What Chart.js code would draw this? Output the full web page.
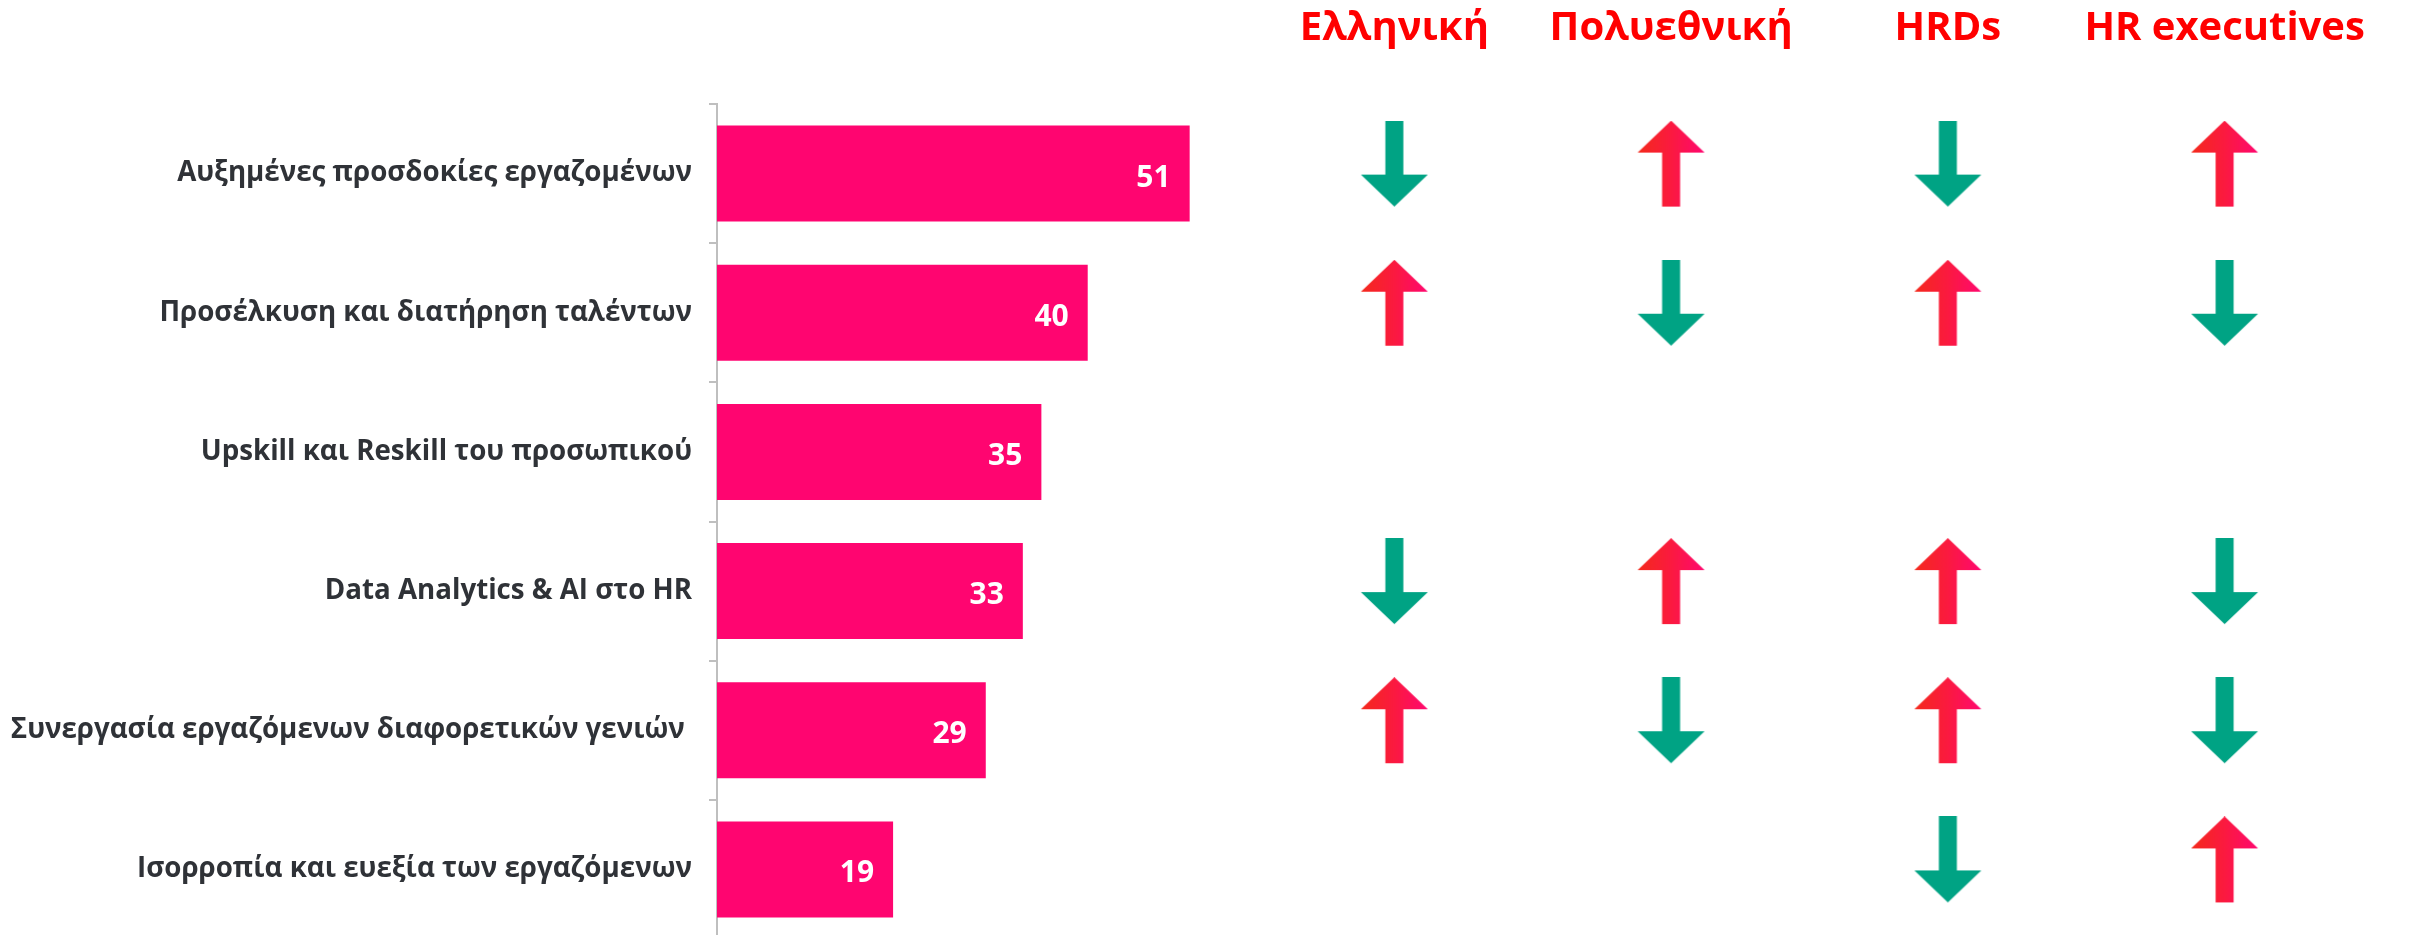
<!DOCTYPE html>
<html>
<head>
<meta charset="utf-8">
<script src="https://cdn.jsdelivr.net/npm/chart.js@4/dist/chart.umd.min.js"></script>
<style>
  html, body { margin: 0; padding: 0; background: #ffffff; width: 2409px; height: 935px; overflow: hidden; }
  #leftBox { position: absolute; left: 0; top: 0; width: 1236px; height: 989px; }
  #rightBox { position: absolute; left: 1245px; top: 0; width: 1129px; height: 989px; }
</style>
</head>
<body>
<div id="leftBox"><canvas id="bars" width="1236" height="989"></canvas></div>
<div id="rightBox"><canvas id="arrows" width="1129" height="989"></canvas></div>
<script>
// ---- data ----
const categories = [
  'Αυξημένες προσδοκίες εργαζομένων',
  'Προσέλκυση και διατήρηση ταλέντων',
  'Upskill και Reskill του προσωπικού',
  'Data Analytics & AI στο HR',
  'Συνεργασία εργαζόμενων διαφορετικών γενιών ',
  'Ισορροπία και ευεξία των εργαζόμενων'
];
const values = [51, 40, 35, 33, 29, 19];
const columns = ['Ελληνική', 'Πολυεθνική', 'HRDs', 'HR executives'];
const trendElliniki    = ['down', 'up',   null, 'down', 'up',   null];
const trendPolyethniki = ['up',   'down', null, 'up',   'down', null];
const trendHRDs        = ['down', 'up',   null, 'up',   'up',   'down'];
const trendHRexec      = ['up',   'down', null, 'down', 'down', 'up'];
const trends = [trendElliniki, trendPolyethniki, trendHRDs, trendHRexec];

// ---- arrow glyphs (styling only) ----
function makeArrow(dir) {
  const W = 69, H = 86, PADB = 20;
  const c = document.createElement('canvas');
  c.width = W; c.height = H + PADB;
  const g = c.getContext('2d');
  const cx = W / 2, hw = 33.5, sw = 9, hh = 32;
  g.beginPath();
  if (dir === 'up') {
    g.moveTo(cx, 0);
    g.lineTo(cx + hw, hh);
    g.lineTo(cx + sw, hh);
    g.lineTo(cx + sw, H);
    g.lineTo(cx - sw, H);
    g.lineTo(cx - sw, hh);
    g.lineTo(cx - hw, hh);
    const grad = g.createLinearGradient(cx - hw, 0, cx + hw, 0);
    grad.addColorStop(0, '#F42A1C');
    grad.addColorStop(0.5, '#FB1A40');
    grad.addColorStop(1, '#FF0870');
    g.fillStyle = grad;
  } else {
    g.moveTo(cx - sw, 0);
    g.lineTo(cx + sw, 0);
    g.lineTo(cx + sw, H - hh);
    g.lineTo(cx + hw, H - hh);
    g.lineTo(cx, H);
    g.lineTo(cx - hw, H - hh);
    g.lineTo(cx - sw, H - hh);
    g.fillStyle = '#00A384';
  }
  g.closePath();
  g.fill();
  return c;
}
const upImg = makeArrow('up');
const downImg = makeArrow('down');

const valueLabels = {
  id: 'valueLabels',
  afterDatasetsDraw(chart) {
    const ctx = chart.ctx;
    const meta = chart.getDatasetMeta(0);
    ctx.save();
    ctx.font = 'bold 30px "Open Sans"';
    ctx.fillStyle = '#ffffff';
    ctx.textAlign = 'right';
    ctx.textBaseline = 'alphabetic';
    meta.data.forEach((bar, i) => {
      ctx.fillText(String(chart.data.datasets[0].data[i]), bar.x - 19, bar.y + 13);
    });
    ctx.restore();
  }
};

function headerColor(ctx) {
  const chart = ctx.chart;
  const sc = chart.scales && chart.scales.x;
  if (!sc) return '#FF0000';
  const cx = sc.getPixelForTick(ctx.index);
  if (!isFinite(cx)) return '#FF0000';
  const c = chart.ctx;
  c.save();
  c.font = 'bold 40px "Open Sans"';
  const w = c.measureText(columns[ctx.index] || '').width;
  c.restore();
  const g = c.createLinearGradient(cx - w / 2, 0, cx + w / 2, 0);
  g.addColorStop(0, '#FF0000');
  g.addColorStop(0.4, '#FF0010');
  g.addColorStop(1, '#FF0A70');
  return g;
}

function build() {
  new Chart(document.getElementById('bars'), {
    type: 'bar',
    data: {
      labels: categories,
      datasets: [{
        data: values,
        backgroundColor: '#FF0570',
        barPercentage: 0.69,
        categoryPercentage: 1
      }]
    },
    options: {
      indexAxis: 'y',
      responsive: false,
      animation: false,
      layout: { padding: { top: 104, bottom: 50, left: 0, right: 0 } },
      plugins: { legend: { display: false }, tooltip: { enabled: false } },
      scales: {
        x: { display: false, min: 0, max: 56 },
        y: {
          afterFit: s => { s.width = 717; },
          grid: { drawOnChartArea: false, drawTicks: true, tickLength: 8, color: '#BFBFBF', lineWidth: 2 },
          border: { display: true, color: '#BFBFBF', width: 2 },
          ticks: { color: '#2F3237', padding: 17, font: { family: 'Open Sans', size: 27.7, weight: 'bold' } }
        }
      }
    },
    plugins: [valueLabels]
  });

  new Chart(document.getElementById('arrows'), {
    type: 'scatter',
    data: {
      datasets: columns.map((col, j) => ({
        label: col,
        data: trends[j]
          .map((t, i) => (t ? { x: col, y: categories[i], t: t } : null))
          .filter(p => p !== null),
        pointStyle: ctx => (ctx.raw && ctx.raw.t === 'up' ? upImg : downImg),
        pointRadius: 10
      }))
    },
    options: {
      responsive: false,
      animation: false,
      layout: { padding: { top: 0, bottom: 50, left: 0, right: 0 } },
      plugins: { legend: { display: false }, tooltip: { enabled: false } },
      scales: {
        x: {
          type: 'category',
          labels: columns,
          position: 'top',
          offset: true,
          afterFit: s => { s.height = 104; s.paddingLeft = 0; s.paddingRight = 0; },
          grid: { display: false },
          border: { display: false },
          ticks: {
            padding: 43, maxRotation: 0, minRotation: 0, autoSkip: false,
            color: headerColor, font: { family: 'Open Sans', size: 40, weight: 'bold' }
          }
        },
        y: { type: 'category', labels: categories, display: false, offset: true }
      }
    }
  });
}

const fontLoads = [
  document.fonts.load('bold 28px "Open Sans"', 'Αυξημένες'),
  document.fonts.load('bold 40px "Open Sans"', 'Ελληνική HR')
];
Promise.all(fontLoads).then(build, build);
</script>
</body>
</html>
